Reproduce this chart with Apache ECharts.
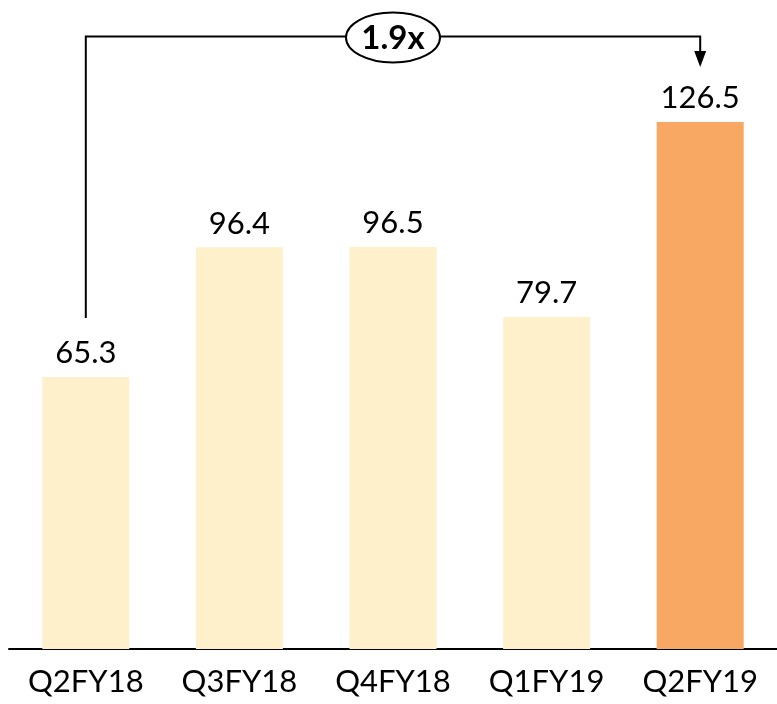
<!DOCTYPE html>
<html>
<head>
<meta charset="utf-8">
<script src="https://cdn.jsdelivr.net/npm/echarts@6/dist/echarts.min.js"></script>
<style>
  html, body { margin: 0; padding: 0; background: #fff; }
  #main { width: 777px; height: 704px; }
</style>
</head>
<body>
<div id="main"></div>
<script>
// 数据
var categories = ['Q2FY18', 'Q3FY18', 'Q4FY18', 'Q1FY19', 'Q2FY19'];
var values = [65.3, 96.4, 96.5, 79.7, 126.5];
var growthLabel = '1.9x';

var lightColor = '#FFF0CC';
var hiColor = '#F8A862';
var font = 'Lato, "Open Sans", sans-serif';

var chart = echarts.init(document.getElementById('main'));

var option = {
  animation: false,
  grid: { left: 9, right: -5, top: 24, bottom: 55 },
  xAxis: {
    type: 'category',
    data: categories,
    axisLine: { lineStyle: { color: '#000', width: 2 } },
    axisTick: { show: false },
    axisLabel: { color: '#000', fontSize: 31, fontFamily: font, margin: 17 }
  },
  yAxis: { type: 'value', min: 0, max: 150, show: false, splitLine: { show: false } },
  series: [{
    type: 'bar',
    barWidth: 87,
    data: values.map(function (v, i) {
      return { value: v, itemStyle: { color: i === values.length - 1 ? hiColor : lightColor } };
    }),
    label: { show: true, position: 'top', distance: 8, color: '#000', fontSize: 31, fontFamily: font }
  }]
};
chart.setOption(option);

// 标注：首尾两根柱子之间的增长倍数
function drawBracket() {
  var first = 0, last = values.length - 1;
  var x0 = chart.convertToPixel({ xAxisIndex: 0 }, categories[first]);
  var x1 = chart.convertToPixel({ xAxisIndex: 0 }, categories[last]);
  var yTop = chart.convertToPixel({ yAxisIndex: 0 }, 147);
  var y0 = chart.convertToPixel({ yAxisIndex: 0 }, values[first]) - 59;
  var y1 = chart.convertToPixel({ yAxisIndex: 0 }, values[last]) - 55;
  var xm = (x0 + x1) / 2;
  var lineStyle = { stroke: '#000', lineWidth: 2, fill: null };
  chart.setOption({
    graphic: [
      { type: 'polyline', shape: { points: [[x0, y0], [x0, yTop], [x1, yTop], [x1, y1 - 14]] }, style: lineStyle, z: 10 },
      { type: 'polygon', shape: { points: [[x1 - 6, y1 - 16], [x1 + 6, y1 - 16], [x1, y1]] }, style: { fill: '#000' }, z: 10 },
      { type: 'ellipse', shape: { cx: xm, cy: yTop + 1, rx: 47, ry: 25 }, style: { fill: '#fff', stroke: '#000', lineWidth: 2 }, z: 11 },
      { type: 'text', x: xm, y: yTop + 2, style: { text: growthLabel, fontSize: 33, fontWeight: 'bold', fontFamily: font, fill: '#000', align: 'center', verticalAlign: 'middle' }, z: 12 }
    ]
  });
}
drawBracket();
</script>
</body>
</html>
